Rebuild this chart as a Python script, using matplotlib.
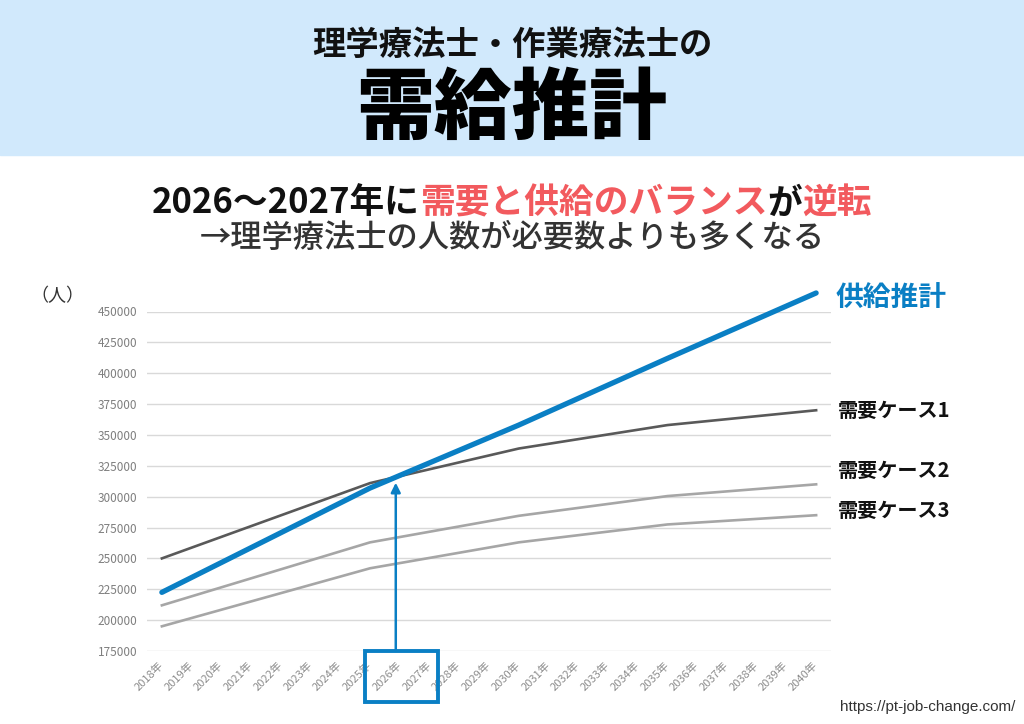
import matplotlib
matplotlib.use('Agg')
import matplotlib.pyplot as plt
import matplotlib.transforms as mtransforms
from matplotlib.patches import Rectangle
import numpy as np

plt.rcParams['font.family'] = ['Noto Sans CJK JP', 'DejaVu Sans']

# データ（グラフから読み取った推計値）
years = list(range(2018, 2041))
year_labels = [f'{y}年' for y in years]
data_years = [2018, 2025, 2030, 2035, 2040]
supply = [222500, 307000, 358000, 412000, 465000]
demand1 = [250000, 311000, 339000, 358000, 370000]
demand2 = [212000, 263000, 284500, 300500, 310000]
demand3 = [195000, 242000, 263000, 277500, 285000]
yticks = list(range(175000, 450001, 25000))

blue = '#0a7fc4'
red = '#f25a5e'

fig = plt.figure(figsize=(10.24, 7.24), dpi=100)

# ヘッダー部分
fig.patches.append(Rectangle((0, 1 - 155 / 724), 1, 155 / 724, transform=fig.transFigure,
                             color='#d1e9fc', zorder=0))
fig.text(0.5, 1 - 45 / 724, '理学療法士・作業療法士の', ha='center', va='center',
         fontsize=24, fontweight='bold', color='#111111')
fig.text(0.5, 1 - 110 / 724, '需給推計', ha='center', va='center',
         fontsize=56, fontweight='black', color='#000000')

# サブタイトル（色分け）
parts = [('2026～2027年に', '#111111'), ('需要と供給のバランス', red),
         ('が', '#111111'), ('逆転', red)]
r = fig.canvas.get_renderer()
texts = [fig.text(0, 1 - 203 / 724, s, color=c, fontsize=25, fontweight='bold',
                  ha='left', va='center') for s, c in parts]
widths = [t.get_window_extent(r).width / fig.bbox.width for t in texts]
x0 = 0.5 - sum(widths) / 2
for t, w in zip(texts, widths):
    t.set_x(x0)
    x0 += w
fig.text(0.5, 1 - 238 / 724, '→理学療法士の人数が必要数よりも多くなる', ha='center', va='center',
         fontsize=22.5, fontweight='medium', color='#333333')
fig.text(30 / 1024, 1 - 296 / 724, '（人）', ha='left', va='center', fontsize=13, color='#333333')

# グラフ本体
ax = fig.add_axes([147 / 1024, 1 - 651 / 724, (831 - 147) / 1024, (651 - 311.5) / 724])
idx = [years.index(y) for y in data_years]

ax.plot(idx, demand3, color='#a6a6a6', lw=1.9, zorder=3)
ax.plot(idx, demand2, color='#a6a6a6', lw=1.9, zorder=3)
ax.plot(idx, demand1, color='#595959', lw=1.9, zorder=3)
ax.plot(idx, supply, color=blue, lw=3.8, zorder=4, clip_on=False, solid_capstyle='round')

ax.set_xlim(-0.5, len(years) - 0.5)
ax.set_ylim(175000, 450000)
ax.set_yticks(yticks)
ax.set_yticklabels([str(v) for v in yticks])
ax.set_xticks(range(len(years)))
ax.set_xticklabels(year_labels, rotation=45, ha='right', va='center', rotation_mode='anchor')
ax.tick_params(axis='y', length=0, pad=7, labelsize=8.5, labelcolor='#7f7f7f')
ax.tick_params(axis='x', length=0, pad=9, labelsize=8, labelcolor='#8c8c8c')
ax.yaxis.grid(True, color='#d9d9d9', lw=1)
ax.set_axisbelow(True)
for s in ax.spines.values():
    s.set_visible(False)

# 系列ラベル
ax.annotate('供給推計', xy=(idx[-1], supply[-1]), xytext=(14, -4), textcoords='offset points',
            ha='left', va='center', fontsize=20, fontweight='bold', color=blue,
            annotation_clip=False)
for name, vals, dy in [('需要ケース1', demand1, 0), ('需要ケース2', demand2, 10),
                       ('需要ケース3', demand3, 3.5)]:
    ax.annotate(name, xy=(idx[-1], vals[-1]), xytext=(16, dy), textcoords='offset points',
                ha='left', va='center', fontsize=14.5, fontweight='bold', color='#111111',
                annotation_clip=False)

# 交点と矢印
xs = np.linspace(0, len(years) - 1, 4401)
diff = np.interp(xs, idx, supply) - np.interp(xs, idx, demand1)
k = np.where(np.diff(np.sign(diff)) != 0)[0][0]
xc = xs[k]
yc = np.interp(xc, idx, demand1)
ax.annotate('', xy=(xc, yc - 4500), xytext=(xc, 175000),
            arrowprops=dict(arrowstyle='-|>', color=blue, lw=1.8, mutation_scale=14,
                            shrinkA=0, shrinkB=0),
            annotation_clip=False, zorder=5)

trans = mtransforms.blended_transform_factory(ax.transData, ax.transAxes)
ax.add_patch(Rectangle((6.83, -0.15), 2.45, 0.15, transform=trans, fill=False,
                       edgecolor=blue, lw=2.8, clip_on=False, zorder=5))

fig.text(1015 / 1024, 1 - 707 / 724, 'https://pt-job-change.com/', ha='right', va='center',
         fontsize=11, color='#333333', family=['Liberation Sans', 'DejaVu Sans'])

fig.savefig('out.png', dpi=100)
